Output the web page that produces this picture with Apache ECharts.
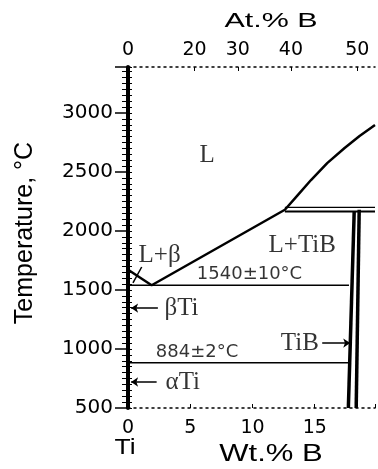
<!DOCTYPE html>
<html><head><meta charset="utf-8">
<script src="https://cdn.jsdelivr.net/npm/echarts@6/dist/echarts.min.js"></script>
<style>html,body{margin:0;padding:0;background:#fff}#c{width:378px;height:469px}</style>
</head><body><div id="c"></div>
<script>
// ---- data ----
const wtMin = 0, wtMax = 19.84;
const tempMin = 500, tempMax = 3390;
const atTickLabels = [0, 20, 30, 40, 50];
const liquidus = [[0.1,1665],[1.9,1540],[12.6,2180],[13.6,2300],[14.7,2432],[16.0,2575],[17.4,2704],[18.6,2805],[19.84,2898]];
const eutectic = [[0,1540],[17.75,1540]];
const eutectoid = [[0,884],[17.75,884]];
const peritecticTop = [[12.6,2200],[19.84,2200]];
const peritecticBottom = [[12.6,2165],[19.84,2165]];
const tibLeft = [[17.7,500],[18.17,2170]];
const tibRight = [[18.33,500],[18.57,2180]];
const leaderLb = [[1.1,1695],[0.4,1560]];
const arrowBeta = [[2.4,1347],[0.25,1347]];
const arrowAlpha = [[2.3,720],[0.25,720]];
const arrowTiB = [[15.6,1050],[17.85,1050]];
const serifLabels = [
  {name:'L', value:[6.35,2644]},
  {name:'L+β', value:[2.54,1790]},
  {name:'L+TiB', value:[14.0,1881]},
  {name:'βTi', value:[4.3,1347]},
  {name:'αTi', value:[4.4,720]},
  {name:'TiB', value:[13.8,1050]}
];
const sansLabels = [
  {name:'1540±10°C', value:[9.76,1630]},
  {name:'884±2°C', value:[5.55,975]}
];

// at.% B -> wt.% B (B 10.81, Ti 47.867)
const atToWt = a => a*10.81/(a*10.81 + (100-a)*47.867)*100;
const atWtPos = atTickLabels.map(atToWt);

const chart = echarts.init(document.getElementById('c'));
const black = '#000';
const lineS = (data, w, extra) => Object.assign({type:'line', data, symbol:'none', silent:true, clip:false,
  lineStyle:{color:black, width:w}, z:3}, extra||{});

chart.setOption({
  animation:false,
  backgroundColor:'#fff',
  grid:{left:128, top:67, right:0, bottom:61},
  xAxis:[
    {type:'value', min:wtMin, max:wtMax, interval:5, position:'bottom',
     splitLine:{show:false},
     axisLine:{lineStyle:{color:black, width:1.5, type:[2,4]}},
     axisTick:{inside:true, length:4, lineStyle:{color:black}},
     axisLabel:{color:black, fontSize:19, fontFamily:'DejaVu Sans', margin:11,
       formatter:v => (v > 16 ? '' : String(v))}},
    {type:'value', min:wtMin, max:wtMax, position:'top',
     splitLine:{show:false},
     axisLine:{lineStyle:{color:black, width:1.5, type:[2,4]}},
     axisTick:{inside:true, length:4, customValues:atWtPos, lineStyle:{color:black}},
     axisLabel:{color:black, fontSize:19, fontFamily:'DejaVu Sans', margin:7, customValues:atWtPos,
       formatter:v => { const i = atWtPos.findIndex(p => Math.abs(p-v) < 1e-6); return i >= 0 ? String(atTickLabels[i]) : ''; }}}
  ],
  yAxis:[
    {type:'value', min:tempMin, max:tempMax, interval:500,
     splitLine:{show:false},
     axisLine:{lineStyle:{color:black, width:4}},
     axisTick:{length:13, lineStyle:{color:black, width:1.5}},
     minorTick:{show:true, splitNumber:10, length:6, lineStyle:{color:black, width:1}},
     axisLabel:{color:black, fontSize:20, fontFamily:'DejaVu Sans', margin:15,
       formatter:v => (v > 3100 ? '' : String(v))}},
    {type:'value', min:tempMin, max:tempMax, interval:50, position:'left', offset:0,
     splitLine:{show:false}, axisLine:{show:false}, axisLabel:{show:false},
     axisTick:{inside:true, length:4, lineStyle:{color:black, width:1}}}
  ],
  series:[
    lineS(liquidus, 2.5),
    lineS(eutectic, 1.5),
    lineS(eutectoid, 1.5),
    lineS(peritecticTop, 1.3),
    lineS(peritecticBottom, 2),
    lineS(tibLeft, 3.5),
    lineS(tibRight, 3.5),
    lineS(leaderLb, 1.5),
    {type:'lines', coordinateSystem:'cartesian2d', silent:true, z:3,
     symbol:['none','arrow'], symbolSize:7,
     lineStyle:{color:black, width:1.5, opacity:1},
     data:[{coords:arrowBeta},{coords:arrowAlpha},{coords:arrowTiB}]},
    {type:'scatter', data:serifLabels, symbolSize:0, silent:true, clip:false, z:4,
     label:{show:true, position:'inside', formatter:p => p.name, color:black,
       fontFamily:'Liberation Serif', fontSize:25}},
    {type:'scatter', data:sansLabels, symbolSize:0, silent:true, clip:false, z:4,
     label:{show:true, position:'inside', formatter:p => p.name, color:black,
       fontFamily:'DejaVu Sans', fontSize:18}}
  ],
  graphic:[
    {type:'text', x:271, y:21, scaleX:1.45, silent:true,
     style:{text:'At.% B', fontSize:21, fontFamily:'Liberation Sans', fill:black, textAlign:'center', textVerticalAlign:'middle', align:'center', verticalAlign:'middle'}},
    {type:'text', x:271, y:455, scaleX:1.35, silent:true,
     style:{text:'Wt.% B', fontSize:23, fontFamily:'Liberation Sans', fill:black, textAlign:'center', textVerticalAlign:'middle', align:'center', verticalAlign:'middle'}},
    {type:'text', x:125, y:448, scaleX:1.2, silent:true,
     style:{text:'Ti', fontSize:22, fontFamily:'Liberation Sans', fill:black, textAlign:'center', textVerticalAlign:'middle', align:'center', verticalAlign:'middle'}},
    {type:'text', x:25, y:233, rotation:Math.PI/2, silent:true,
     style:{text:'Temperature, °C', fontSize:25, fontFamily:'Liberation Sans', fill:black, textAlign:'center', textVerticalAlign:'middle', align:'center', verticalAlign:'middle'}}
  ]
});
</script>
</body></html>
